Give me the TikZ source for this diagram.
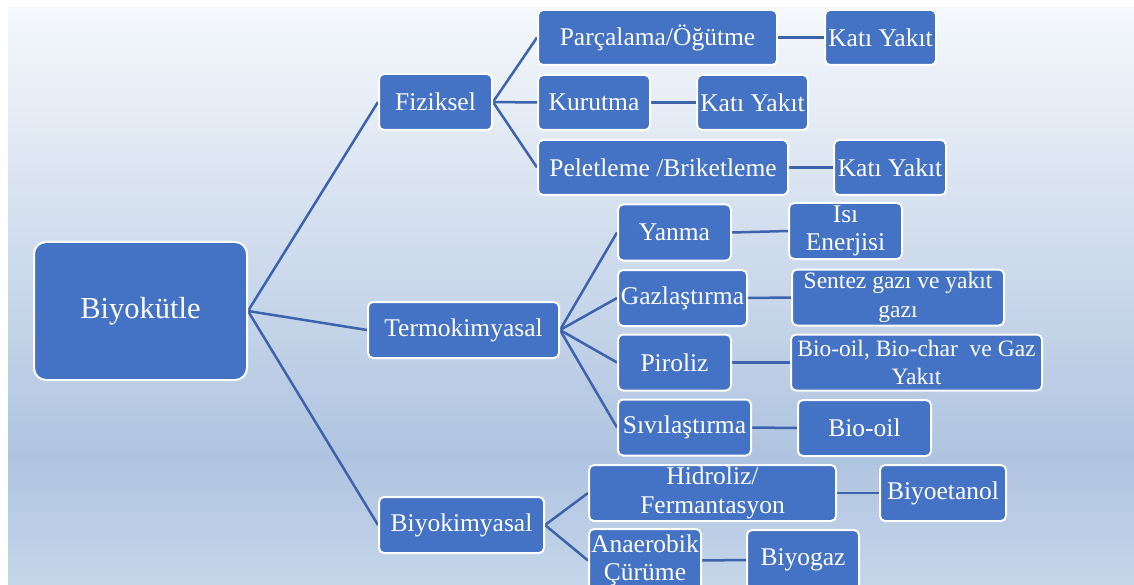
\documentclass[tikz,border=0pt]{standalone}
\usepackage{fontspec}
\setmainfont{Liberation Serif}
\pgfdeclarelayer{bgl}
\pgfdeclarelayer{lines}
\pgfsetlayers{bgl,lines,main}
\definecolor{boxblue}{HTML}{4472C4}
\definecolor{linkblue}{HTML}{3D63AD}
\definecolor{bgtop}{HTML}{F5F8FC}
\definecolor{bgmid}{HTML}{AFC4E0}
\definecolor{bgbot}{HTML}{C5D6EA}
\pgfdeclareverticalshading{bgshade}{100bp}{color(0bp)=(bgbot); color(25bp)=(bgbot); color(36bp)=(bgmid); color(75bp)=(bgtop); color(100bp)=(bgtop)}
\tikzset{
  box/.style={draw=white, line width=2pt, fill=boxblue, rounded corners=5pt, text=white,
    inner sep=0pt, align=center, font=\fontsize{25.5}{28.5}\selectfont, minimum height=56pt},
  bigbox/.style={box, rounded corners=12pt, font=\fontsize{30.5}{36}\selectfont},
  smallfont/.style={font=\fontsize{23.5}{28.5}\selectfont},
  conn/.style={draw=linkblue, line width=2.5pt}
}
\begin{document}
\begin{tikzpicture}[x=1pt,y=-1pt]
\useasboundingbox (0,0) rectangle (1134,585);
\begin{pgfonlayer}{bgl}
  \shade[shading=bgshade] (8,8) rectangle (1134,585);
\end{pgfonlayer}

% level 0
\node[bigbox, minimum width=213pt, minimum height=138pt] (bio) at (140.5,311) {Biyokütle};
% level 1
\node[box, minimum width=113pt] (fiz) at (435.5,102) {Fiziksel};
\node[box, minimum width=191pt] (termo) at (463.5,330) {Termokimyasal};
\node[box, minimum width=165pt] (biyok) at (461.5,525) {Biyokimyasal};
% Fiziksel branch
\node[box, minimum width=239pt, minimum height=55pt] (parc) at (657.5,37.5) {Parçalama/Öğütme};
\node[box, minimum width=111pt, minimum height=55pt] (kati1) at (880.5,37.5) {Katı Yakıt};
\node[box, minimum width=112pt, minimum height=55pt] (kur) at (594,102.5) {Kurutma};
\node[box, minimum width=111pt, minimum height=55pt] (kati2) at (752.5,102.5) {Katı Yakıt};
\node[box, minimum width=250pt, minimum height=55pt] (pel) at (663,167.5) {Peletleme /Briketleme};
\node[box, minimum width=112pt, minimum height=55pt] (kati3) at (890,167.5) {Katı Yakıt};
% Termokimyasal branch
\node[box, minimum width=113pt] (yan) at (674.5,232.5) {Yanma};
\node[box, minimum width=113pt] (isi) at (845.5,231) {Isı\\Enerjisi};
\node[box, minimum width=129pt] (gaz) at (682.5,298) {Gazlaştırma};
\node[box, smallfont, minimum width=212pt] (sent) at (898,297.5) {Sentez gazı ve yakıt\\gazı};
\node[box, minimum width=113pt] (pir) at (674.5,362.5) {Piroliz};
\node[box, smallfont, minimum width=251pt] (bchar) at (916.5,362.5) {Bio-oil, Bio-char~ ve Gaz\\Yakıt};
\node[box, minimum width=133pt] (sivi) at (684.5,427.5) {Sıvılaştırma};
\node[box, minimum width=133pt] (boil) at (864.5,428) {Bio-oil};
% Biyokimyasal branch
\node[box, minimum width=247pt] (hid) at (712.5,493) {Hidroliz/\\Fermantasyon};
\node[box, minimum width=126pt] (etan) at (943,493) {Biyoetanol};
\node[box, minimum width=112pt, minimum height=63pt] (ana) at (645,560.5) {Anaerobik\\Çürüme};
\node[box, minimum width=112pt, minimum height=60pt] (bgaz) at (803,560) {Biyogaz};

\begin{pgfonlayer}{lines}
  \draw[conn] (bio.east) -- (fiz.west);
  \draw[conn] (bio.east) -- (termo.west);
  \draw[conn] (bio.east) -- (biyok.west);
  \draw[conn] (fiz.east) -- (parc.west);
  \draw[conn] (fiz.east) -- (kur.west);
  \draw[conn] (fiz.east) -- (pel.west);
  \draw[conn] (parc.east) -- (kati1.west);
  \draw[conn] (kur.east) -- (kati2.west);
  \draw[conn] (pel.east) -- (kati3.west);
  \draw[conn] (termo.east) -- (yan.west);
  \draw[conn] (termo.east) -- (gaz.west);
  \draw[conn] (termo.east) -- (pir.west);
  \draw[conn] (termo.east) -- (sivi.west);
  \draw[conn] (yan.east) -- (isi.west);
  \draw[conn] (gaz.east) -- (sent.west);
  \draw[conn] (pir.east) -- (bchar.west);
  \draw[conn] (sivi.east) -- (boil.west);
  \draw[conn] (biyok.east) -- (hid.west);
  \draw[conn] (biyok.east) -- (ana.west);
  \draw[conn] (hid.east) -- (etan.west);
  \draw[conn] (ana.east) -- (bgaz.west);
\end{pgfonlayer}
\end{tikzpicture}
\end{document}
